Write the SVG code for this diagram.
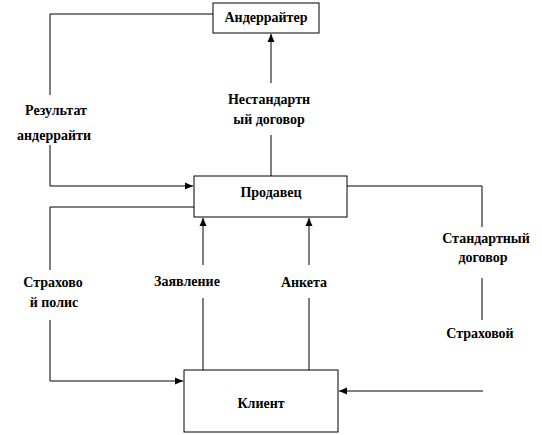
<svg xmlns="http://www.w3.org/2000/svg" width="542" height="435" viewBox="0 0 542 435">
<defs>
<marker id="ah" viewBox="0 0 8 8" refX="8" refY="4" markerWidth="8" markerHeight="8" markerUnits="userSpaceOnUse" orient="auto">
<path d="M0,0.5 L8,4 L0,7.5 Z" fill="#000"/>
</marker>
</defs>
<rect width="542" height="435" fill="#fff"/>
<g id="connectors" fill="none" stroke="#000" stroke-width="1">
<path d="M213,14 H50 V95"/>
<path d="M50,145 V186 H193" marker-end="url(#ah)"/>
<path d="M271,176 V135"/>
<path d="M271,83 V34" marker-end="url(#ah)"/>
<path d="M194,207 H50 V270"/>
<path d="M50,320 V381 H183" marker-end="url(#ah)"/>
<path d="M203,370 V298"/>
<path d="M203,265 V218" marker-end="url(#ah)"/>
<path d="M309,370 V298"/>
<path d="M309,265 V218" marker-end="url(#ah)"/>
<path d="M347,186 H482 V227"/>
<path d="M482,278 V320"/>
<path d="M483,391 H339" marker-end="url(#ah)"/>
</g>
<g id="underwriter">
<rect x="213" y="3" width="106" height="30" fill="#fff" stroke="#000"/>
<text x="266" y="22" font-family="Liberation Serif" font-weight="bold" font-size="14" text-anchor="middle">Андеррайтер</text>
</g>
<g id="seller">
<rect x="194" y="176" width="153" height="41" fill="#fff" stroke="#000"/>
<text x="271" y="197" font-family="Liberation Serif" font-weight="bold" font-size="14" text-anchor="middle">Продавец</text>
</g>
<g id="client">
<rect x="184" y="370" width="154" height="62" fill="#fff" stroke="#000"/>
<text x="261" y="408" font-family="Liberation Serif" font-weight="bold" font-size="14" text-anchor="middle">Клиент</text>
</g>
<g id="labels">
<text x="56" y="115" font-family="Liberation Serif" font-weight="bold" font-size="14" text-anchor="middle">Результат</text>
<text x="54" y="140" font-family="Liberation Serif" font-weight="bold" font-size="14" text-anchor="middle">андеррайти</text>
<text x="269" y="104" font-family="Liberation Serif" font-weight="bold" font-size="14" text-anchor="middle">Нестандартн</text>
<text x="269" y="124" font-family="Liberation Serif" font-weight="bold" font-size="14" text-anchor="middle">ый договор</text>
<text x="53" y="287" font-family="Liberation Serif" font-weight="bold" font-size="14" text-anchor="middle">Страхово</text>
<text x="54" y="307" font-family="Liberation Serif" font-weight="bold" font-size="14" text-anchor="middle">й полис</text>
<text x="187" y="286" font-family="Liberation Serif" font-weight="bold" font-size="14" text-anchor="middle">Заявление</text>
<text x="304" y="287" font-family="Liberation Serif" font-weight="bold" font-size="14" text-anchor="middle">Анкета</text>
<text x="486" y="243" font-family="Liberation Serif" font-weight="bold" font-size="14" text-anchor="middle">Стандартный</text>
<text x="483" y="262" font-family="Liberation Serif" font-weight="bold" font-size="14" text-anchor="middle">договор</text>
<text x="480" y="338" font-family="Liberation Serif" font-weight="bold" font-size="14" text-anchor="middle">Страховой</text>
</g>
</svg>
